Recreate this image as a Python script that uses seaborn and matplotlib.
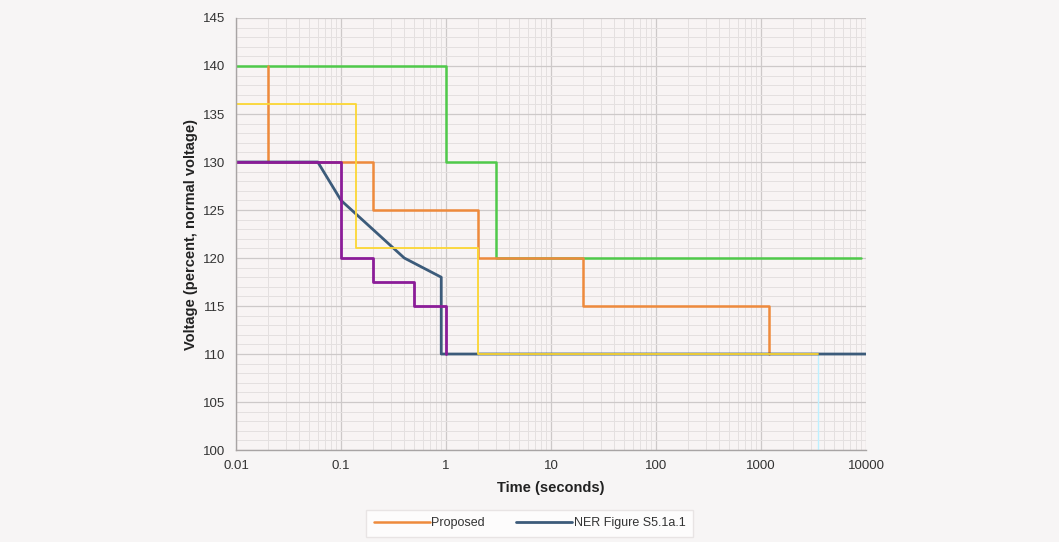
import numpy as np
import pandas as pd
import matplotlib
matplotlib.use("Agg")
import matplotlib.pyplot as plt
from matplotlib.ticker import LogLocator, FixedLocator, NullFormatter
import seaborn as sns

# series (time in seconds, voltage in percent)
green_t = [0.01, 1, 1, 3, 3, 9000]
green_v = [140, 140, 130, 130, 120, 120]

proposed_t = [0.02, 0.02, 0.2, 0.2, 2, 2, 20, 20, 1200, 1200]
proposed_v = [140, 130, 130, 125, 125, 120, 120, 115, 115, 110]

yellow_t = [0.01, 0.14, 0.14, 2, 2, 3500]
yellow_v = [136, 136, 121, 121, 110, 110]

cyan_t = [3500, 3500]
cyan_v = [110, 100]

purple_t = [0.01, 0.1, 0.1, 0.2, 0.2, 0.5, 0.5, 1, 1]
purple_v = [130, 130, 120, 120, 117.5, 117.5, 115, 115, 110]

ner_t = [0.01, 0.06, 0.1, 0.4, 0.9, 0.9, 10000]
ner_v = [130, 130, 126, 120, 118, 110, 110]

x_ticks = [0.01, 0.1, 1, 10, 100, 1000, 10000]
x_labels = ["0.01", "0.1", "1", "10", "100", "1000", "10000"]
y_ticks = list(range(100, 146, 5))

# drawing order follows the reference (purple on top, yellow over the blue tail)
series = [
    ("green", green_t, green_v, "#4fc94a", 1.8),
    ("cyan", cyan_t, cyan_v, "#bdf0ff", 1.0),
    ("Proposed", proposed_t, proposed_v, "#ee8a3c", 1.8),
    ("NER Figure S5.1a.1", ner_t, ner_v, "#3c5b7a", 2.0),
    ("yellow", yellow_t, yellow_v, "#fcd734", 1.3),
    ("purple", purple_t, purple_v, "#8b1c98", 2.0),
]

sns.set_style("white")
plt.rcParams['font.family'] = ['Liberation Sans', 'DejaVu Sans']

fig = plt.figure(figsize=(10.59, 5.42), dpi=100, facecolor="#f7f5f5")
ax = fig.add_axes([0.2229, 0.1697, 0.5949, 0.7971])
ax.set_facecolor("#f8f4f4")

handles = {}
for name, t, v, col, lw in series:
    df = pd.DataFrame({"t": t, "v": v})
    sns.lineplot(data=df, x="t", y="v", sort=False, estimator=None,
                 color=col, linewidth=lw, ax=ax)
    handles[name] = ax.lines[-1]

ax.set_xscale("log")
ax.set_xlim(0.01, 10000)
ax.set_ylim(100, 145)

ax.xaxis.set_major_locator(FixedLocator(x_ticks))
ax.set_xticklabels(x_labels)
ax.xaxis.set_minor_locator(LogLocator(base=10, subs=np.arange(2, 10)))
ax.xaxis.set_minor_formatter(NullFormatter())
ax.set_yticks(y_ticks)
ax.yaxis.set_minor_locator(FixedLocator(np.arange(100, 146, 1)))

ax.grid(which="major", color="#cdc9c9", linewidth=0.9)
ax.grid(which="minor", color="#e4e0e0", linewidth=0.7)
ax.set_axisbelow(True)

for s in ["top", "right"]:
    ax.spines[s].set_visible(False)
for s in ["left", "bottom"]:
    ax.spines[s].set_color("#a8a4a4")
    ax.spines[s].set_linewidth(1.0)

ax.tick_params(axis="both", which="major", labelsize=9.5, colors="#333333",
               length=4, color="#a8a4a4", direction="out")
ax.tick_params(axis="both", which="minor", length=0)

ax.set_xlabel("Time (seconds)", fontsize=10.5, fontweight="bold", color="#222222", labelpad=6)
ax.set_ylabel("Voltage (percent, normal voltage)", fontsize=10.5, fontweight="bold", color="#222222", labelpad=4)

leg = fig.legend([handles["Proposed"], handles["NER Figure S5.1a.1"]],
                 ["Proposed", "NER Figure S5.1a.1"],
                 loc="center", bbox_to_anchor=(0.5, 0.035), ncol=2,
                 fontsize=9, frameon=True, fancybox=False,
                 handlelength=4.5, columnspacing=2.5, handletextpad=0.1,
                 borderpad=0.6)
leg.get_frame().set_facecolor("white")
leg.get_frame().set_edgecolor("#e4e0e0")
for txt in leg.get_texts():
    txt.set_color("#333333")

fig.savefig("out.png", dpi=100, facecolor=fig.get_facecolor())
